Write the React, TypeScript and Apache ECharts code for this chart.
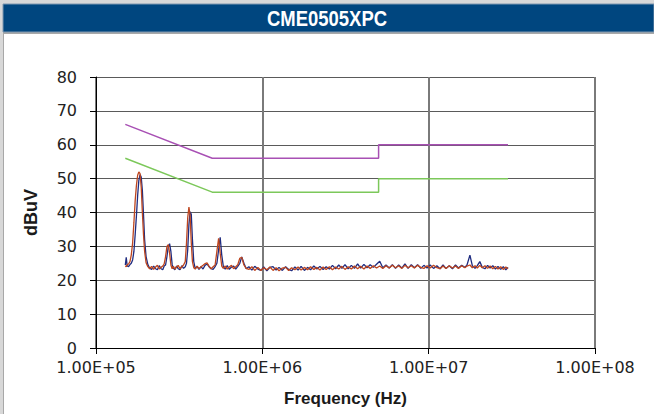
import React, { useEffect, useRef } from "react";
import * as echarts from "echarts";

// Frequency grid of the sweep (kHz)
const freqKHz: number[] = [
  150, 152, 154, 157, 160, 163, 166, 169, 172, 175, 178, 181, 184, 187, 190, 193, 196, 200,
  205, 210, 216, 222, 228, 234, 240, 246, 252, 257, 262, 267, 272, 277, 282, 287, 292, 298,
  305, 312, 320, 328, 336, 344, 350, 356, 362, 368, 374, 380, 387, 395, 405, 416, 428, 440,
  452, 465, 478, 492, 506, 520, 533, 546, 558, 570, 583, 598, 615, 633, 652, 672, 692, 712,
  732, 752, 775, 800,
  830, 865, 900, 940, 980, 1020, 1065, 1110, 1160, 1210, 1260, 1320, 1380, 1440, 1500, 1570,
  1640, 1710, 1790, 1870, 1950, 2040, 2130, 2220, 2320, 2420, 2530, 2640, 2760, 2880, 3010,
  3140, 3280, 3430, 3580, 3740, 3900, 4080, 4260, 4450, 4650, 4860, 5080, 5300, 5540, 5790,
  6050, 6320, 6600, 6900, 7200, 7520, 7860, 8210, 8580, 8960, 9360, 9780, 10200, 10700, 11200,
  11700, 12200, 12700, 13300, 13900, 14500, 15100, 15800, 16500, 17000, 17700, 18300, 19000,
  19600, 20300, 21000, 21800, 22600, 23400, 24300, 25200, 26100, 27100, 28100, 29100, 30000,
];

// Measured level, trace 1 (dark blue), dBuV
const blueDb: number[] = [
  24.5, 26.8, 24.2, 24.0, 24.6, 25.0, 26.0, 28.5, 33.5, 39.0, 45.0, 49.5, 51.2, 50.5, 46.5, 39.5, 32.0, 27.0,
  24.6, 23.6, 23.2, 24.2, 23.4, 23.1, 24.3, 23.4, 23.1, 24.2, 24.5, 27.0, 30.0, 30.8, 28.5, 24.6, 23.6, 23.1,
  24.2, 23.4, 23.1, 24.3, 23.5, 24.0, 25.0, 29.0, 36.5, 40.2, 39.5, 32.0, 25.5, 23.4, 24.1, 23.2, 24.0, 23.3,
  24.4, 24.8, 24.0, 23.4, 23.2, 24.0, 25.0, 29.0, 32.7, 27.5, 24.0, 23.3, 24.3, 23.2, 23.9, 24.2, 23.3, 24.1,
  25.0, 26.9, 25.0, 23.4,
  24.0, 23.0, 24.1, 23.3, 22.9, 23.9, 22.8, 23.8, 24.0, 23.0, 23.8, 22.9, 24.0, 23.2, 22.8, 23.9,
  23.0, 24.1, 22.9, 23.8, 23.1, 24.2, 23.3, 24.1, 23.2, 24.0, 23.3, 24.4, 23.4, 24.5, 23.5,
  24.6, 23.4, 24.4, 23.5, 24.8, 23.6, 24.7, 23.7, 24.6, 23.8, 24.7, 25.6, 23.7, 24.5, 23.6,
  24.6, 23.5, 24.5, 23.6, 24.8, 23.5, 24.6, 23.7, 24.6, 23.5, 24.4, 23.6, 24.5, 23.5, 24.3,
  23.4, 24.5, 23.5, 24.3, 23.4, 24.5, 23.6, 24.4, 23.8, 24.5, 27.4, 24.3, 23.5,
  24.3, 25.5, 23.8, 23.4, 24.4, 23.6, 24.3, 23.3, 24.1, 23.2, 24.0, 23.1, 23.8,
];

// Measured level, trace 2 (red-brown), dBuV
const redDb: number[] = [
  24.3, 24.0, 24.6, 24.8, 25.5, 27.5, 31.0, 37.0, 43.5, 48.0, 51.0, 52.0, 51.5, 47.5, 40.0, 33.5, 28.5, 25.2,
  24.0, 23.4, 24.1, 23.2, 23.9, 24.4, 23.3, 23.8, 24.2, 24.8, 27.0, 30.0, 30.5, 28.0, 24.5, 23.4, 24.1, 23.3,
  23.9, 24.4, 23.4, 24.0, 24.5, 25.5, 31.0, 38.5, 41.6, 39.0, 31.0, 25.5, 23.7, 23.3, 24.2, 23.4, 24.0, 24.4,
  24.9, 25.1, 24.2, 23.4, 24.0, 24.5, 28.5, 32.4, 28.0, 24.2, 23.5, 24.2, 23.3, 23.9, 24.4, 23.4, 24.0, 24.6,
  26.5, 26.8, 24.5, 23.5,
  23.2, 24.0, 22.9, 23.8, 22.9, 23.7, 23.1, 23.9, 22.9, 23.7, 22.8, 23.6, 23.8, 22.9, 23.7, 23.1,
  23.9, 23.0, 23.8, 23.1, 24.0, 23.2, 23.8, 23.0, 23.9, 23.2, 24.0, 23.1, 23.9, 23.3, 24.1,
  23.2, 24.0, 23.3, 24.2, 23.4, 24.1, 23.3, 24.2, 23.5, 24.3, 23.6, 24.2, 23.5, 24.3, 23.6,
  24.4, 23.7, 24.3, 23.5, 24.4, 23.7, 24.3, 23.6, 24.4, 23.8, 23.5, 24.3, 23.6, 24.4, 23.7,
  23.4, 24.2, 23.5, 24.3, 23.6, 24.2, 23.5, 24.3, 23.7, 24.2, 24.5, 23.7, 24.3,
  23.6, 24.4, 23.7, 24.3, 23.5, 24.2, 23.4, 24.1, 23.3, 24.0, 23.2, 23.9, 23.4,
];

// Limit lines: frequency (Hz) and level (dBuV)
const limitFreqHz: number[] = [150000, 500000, 5000000, 5000000, 30000000];
const quasiPeakLimit: number[] = [66, 56, 56, 60, 60];
const averageLimit: number[] = [56, 46, 46, 50, 50];

const yTicks: number[] = [0, 10, 20, 30, 40, 50, 60, 70, 80];
const title = "CME0505XPC";
const xName = "Frequency (Hz)";
const yName = "dBuV";

function fmtSci(v: number): string {
  const e = Math.floor(Math.log10(v) + 1e-9);
  const m = v / Math.pow(10, e);
  const sign = e >= 0 ? "+" : "-";
  return m.toFixed(2) + "E" + sign + String(Math.abs(e)).padStart(2, "0");
}

export default function App() {
  const ref = useRef<HTMLDivElement>(null);
  useEffect(() => {
    document.body.style.margin = "0";
    if (!ref.current) return;
    const chart = echarts.init(ref.current, undefined, { renderer: "svg" });
    const trace = (vals: number[]) => freqKHz.map((f, i) => [f * 1000, vals[i]]);
    const limit = (vals: number[]) => limitFreqHz.map((f, i) => [f, vals[i]]);
    const font = "Liberation Sans, Arial, Helvetica, sans-serif";
    chart.setOption({
      animation: false,
      backgroundColor: "#d8d8d8",
      graphic: [
        { type: "rect", z: -10, shape: { x: 3, y: 32, width: 651, height: 382 }, style: { fill: "#a8a8a8" }, silent: true },
        { type: "rect", z: -9, shape: { x: 4, y: 34, width: 650, height: 380 }, style: { fill: "#ffffff" }, silent: true },
        { type: "rect", z: -8, shape: { x: 3, y: 4, width: 651, height: 28 }, style: { fill: "#00467f", stroke: "#7f97b0", lineWidth: 1 }, silent: true },
        {
          type: "text", x: 327, y: 18, scaleX: 0.84, z: 10, silent: true,
          style: {
            text: title, fill: "#ffffff", font: "bold 22px " + font,
            textAlign: "center", textVerticalAlign: "middle", align: "center", verticalAlign: "middle",
          },
        },
      ],
      grid: { left: 96, right: 59, top: 77, bottom: 66, containLabel: false },
      xAxis: {
        type: "log",
        logBase: 10,
        min: 1e5,
        max: 1e8,
        name: xName,
        nameLocation: "middle",
        nameGap: 42,
        nameTextStyle: { fontFamily: font, fontWeight: "bold", fontSize: 17, color: "#1a1a1a" },
        axisLine: { show: true, lineStyle: { color: "#000", width: 1 } },
        axisTick: { show: true, length: 6, lineStyle: { color: "#000" } },
        minorTick: { show: false },
        axisLabel: { formatter: (v: number) => fmtSci(v), fontFamily: "DejaVu Sans, sans-serif", fontSize: 16, color: "#222", margin: 11 },
        splitLine: { show: true, lineStyle: { color: "#7a7a7a", width: 2 } },
      },
      yAxis: {
        type: "value",
        min: 0,
        max: 80,
        interval: 10,
        name: yName,
        nameLocation: "middle",
        nameGap: 56,
        nameRotate: 90,
        nameTextStyle: { fontFamily: font, fontWeight: "bold", fontSize: 18, color: "#1a1a1a" },
        axisLine: { show: true, lineStyle: { color: "#000", width: 1 } },
        axisTick: { show: true, length: 6, lineStyle: { color: "#000" } },
        axisLabel: {
          fontFamily: "DejaVu Sans, sans-serif", fontSize: 16, color: "#222", margin: 19,
          formatter: (v: number) => (yTicks.indexOf(v) >= 0 ? String(v) : ""),
        },
        splitLine: { show: true, lineStyle: { color: "#5a5a5a", width: 1 } },
      },
      series: [
        { type: "line", name: "QP limit", data: limit(quasiPeakLimit), showSymbol: false, silent: true, lineStyle: { color: "#a850b4", width: 1.5 } },
        { type: "line", name: "AV limit", data: limit(averageLimit), showSymbol: false, silent: true, lineStyle: { color: "#7cc85a", width: 1.5 } },
        { type: "line", name: "Trace 1", data: trace(blueDb), showSymbol: false, silent: true, lineStyle: { color: "#1f2c80", width: 1.3 } },
        { type: "line", name: "Trace 2", data: trace(redDb), showSymbol: false, silent: true, lineStyle: { color: "#be451e", width: 1.3 } },
      ],
    });
    return () => chart.dispose();
  }, []);
  return <div ref={ref} style={{ position: "fixed", left: 0, top: 0, width: 654, height: 414 }} />;
}
